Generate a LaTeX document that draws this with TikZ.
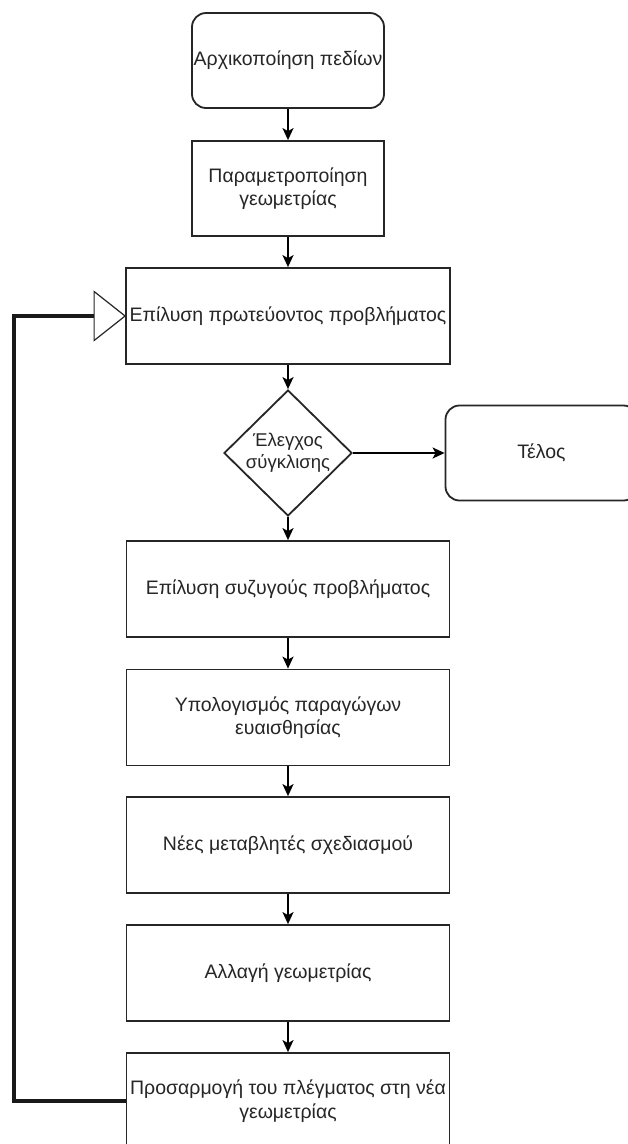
\documentclass[tikz,border=0pt]{standalone}
\usepackage{fontspec}
\setmainfont{Liberation Sans}
\usetikzlibrary{arrows.meta,shapes.geometric,calc}
\begin{document}
\begin{tikzpicture}[x=1pt,y=-1pt,
  every node/.style={font=\fontsize{19.5}{23.5}\selectfont, text=black!85},
  procbox/.style={draw=black!85, line width=1.8pt, rectangle, inner sep=0pt, align=center, minimum width=323pt, minimum height=96pt},
  smallbox/.style={procbox, minimum width=192pt, minimum height=95pt},
  roundbox/.style={procbox, rounded corners=14pt, minimum width=192pt, minimum height=95pt},
  decision/.style={draw=black!85, line width=1.8pt, diamond, inner sep=0pt, minimum width=128pt, minimum height=126pt},
  flow/.style={draw=black, line width=1.8pt, -{Stealth[length=12pt,width=11pt,inset=3pt]}},
  loopline/.style={draw=black!90, line width=3.4pt},
  tri/.style={draw=black!85, line width=1.2pt, fill=white, line join=miter}
]
\useasboundingbox (0,0) rectangle (627,1144);
\fill[white] (0,0) rectangle (627,1144);

\node[roundbox] (b1) at (288,60.5) {Αρχικοποίηση πεδίων};
\node[smallbox] (b2) at (288,188.5) {Παραμετροποίηση\\γεωμετρίας};
\node[procbox, minimum width=324pt] (b3) at (288,316) {Επίλυση πρωτεύοντος προβλήματος};
\node[decision] (d) at (288,453) {};
\node[align=center, font=\fontsize{18.5}{22}\selectfont] (dt) at (288,453) {Έλεγχος\\σύγκλισης};
\node[roundbox] (end) at (541.5,453) {Τέλος};
\node[procbox] (b4) at (288,589) {Επίλυση συζυγούς προβλήματος};
\node[procbox] (b5) at (288,717.5) {Υπολογισμός παραγώγων\\ευαισθησίας};
\node[procbox] (b6) at (288,845) {Νέες μεταβλητές σχεδιασμού};
\node[procbox] (b7) at (288,973) {Αλλαγή γεωμετρίας};
\node[procbox] (b8) at (288,1101) {Προσαρμογή του πλέγματος στη νέα\\γεωμετρίας};

\draw[flow] (b1) -- (b2);
\draw[flow] (b2) -- (b3);
\draw[flow] (b3.south) -- (d.north);
\draw[flow] (d.east) -- (end.west);
\draw[flow] (d.south) -- (b4.north);
\draw[flow] (b4) -- (b5);
\draw[flow] (b5) -- (b6);
\draw[flow] (b6) -- (b7);
\draw[flow] (b7) -- (b8);

\coordinate (lc) at (14,1101);
\coordinate (tb) at ($(b3.west)+(-31,0)$);
\draw[loopline] (b8.west) -- (lc) |- (tb);
\draw[tri] (b3.west) -- ++(-31,-24.5) -- ++(0,49) -- cycle;
\end{tikzpicture}
\end{document}
